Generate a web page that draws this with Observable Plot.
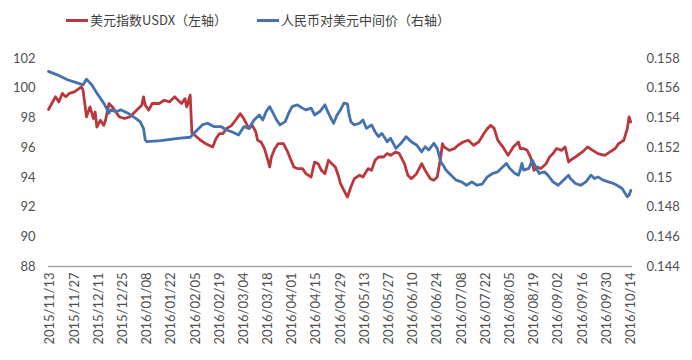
<!DOCTYPE html>
<html><head><meta charset="utf-8">
<script src="https://cdn.jsdelivr.net/npm/d3@7"></script>
<script src="https://cdn.jsdelivr.net/npm/@observablehq/plot@0.6"></script>
<style>
body{margin:0;background:#fff;}
#legend{height:40px;position:relative;font-family:"Noto Sans CJK SC",sans-serif;font-size:13px;color:#404040;}
.item{position:absolute;top:11px;line-height:18px;display:flex;align-items:center;white-space:nowrap;}
.sw{display:inline-block;width:22px;height:3px;margin-right:2px;}
</style></head><body>
<div id="legend">
 <div class="item" style="left:66px"><span class="sw" style="background:#b8383e"></span>美元指数USDX（左轴）</div>
 <div class="item" style="left:257px"><span class="sw" style="background:#4472ae"></span>人民币对美元中间价（右轴）</div>
</div>
<div id="chart"></div>
<script>
const usdxSeries = [["2015-11-12",98.57],["2015-11-16",99.42],["2015-11-18",99.08],["2015-11-20",99.65],["2015-11-22",99.42],["2015-11-24",99.65],["2015-11-27",99.75],["2015-12-01",100.09],["2015-12-02",99.87],["2015-12-04",98.07],["2015-12-06",98.74],["2015-12-08",97.96],["2015-12-09",98.4],["2015-12-10",97.39],["2015-12-12",97.84],["2015-12-14",97.5],["2015-12-15",97.84],["2015-12-17",98.97],["2015-12-19",98.74],["2015-12-21",98.4],["2015-12-23",98.07],["2015-12-26",97.96],["2015-12-29",98.07],["2016-01-02",98.52],["2016-01-05",98.86],["2016-01-06",99.42],["2016-01-07",98.86],["2016-01-09",98.52],["2016-01-11",98.97],["2016-01-15",98.97],["2016-01-18",99.19],["2016-01-21",99.08],["2016-01-24",99.42],["2016-01-26",99.19],["2016-01-28",98.97],["2016-01-30",99.3],["2016-01-31",98.74],["2016-02-02",99.53],["2016-02-03",97.0],["2016-02-08",96.5],["2016-02-11",96.27],["2016-02-15",96.04],["2016-02-17",96.61],["2016-02-19",96.95],["2016-02-21",96.95],["2016-02-23",97.28],["2016-02-26",97.5],["2016-02-29",97.96],["2016-03-02",98.29],["2016-03-04",97.96],["2016-03-07",97.28],["2016-03-09",97.5],["2016-03-11",97.06],["2016-03-12",96.5],["2016-03-14",96.38],["2016-03-16",95.94],["2016-03-18",95.15],["2016-03-19",94.7],["2016-03-20",95.37],["2016-03-22",95.94],["2016-03-24",96.27],["2016-03-27",96.27],["2016-03-29",95.82],["2016-03-31",95.26],["2016-04-02",94.7],["2016-04-04",94.59],["2016-04-07",94.59],["2016-04-09",94.25],["2016-04-12",94.02],["2016-04-14",95.03],["2016-04-16",94.92],["2016-04-18",94.47],["2016-04-20",94.25],["2016-04-22",95.15],["2016-04-24",94.92],["2016-04-26",94.7],["2016-04-28",94.02],["2016-04-29",93.58],["2016-05-03",92.67],["2016-05-05",93.35],["2016-05-07",93.91],["2016-05-10",94.14],["2016-05-12",94.02],["2016-05-15",94.59],["2016-05-17",94.47],["2016-05-19",95.15],["2016-05-21",95.37],["2016-05-24",95.37],["2016-05-26",95.6],["2016-05-28",95.48],["2016-05-31",95.71],["2016-06-02",95.6],["2016-06-05",94.92],["2016-06-07",94.14],["2016-06-09",93.91],["2016-06-12",94.25],["2016-06-15",94.92],["2016-06-17",94.47],["2016-06-20",93.91],["2016-06-22",93.8],["2016-06-24",94.02],["2016-06-26",95.37],["2016-06-27",96.27],["2016-06-28",96.04],["2016-07-01",95.82],["2016-07-04",95.94],["2016-07-06",96.16],["2016-07-09",96.38],["2016-07-12",96.5],["2016-07-15",96.16],["2016-07-18",96.38],["2016-07-21",96.95],["2016-07-23",97.28],["2016-07-25",97.5],["2016-07-27",97.28],["2016-07-29",96.5],["2016-08-01",96.04],["2016-08-04",95.48],["2016-08-07",96.04],["2016-08-10",96.38],["2016-08-11",95.94],["2016-08-13",95.94],["2016-08-15",95.82],["2016-08-17",95.37],["2016-08-19",94.47],["2016-08-21",94.7],["2016-08-23",94.59],["2016-08-26",94.92],["2016-08-28",95.37],["2016-08-30",95.6],["2016-09-01",95.94],["2016-09-04",95.82],["2016-09-06",96.04],["2016-09-08",95.03],["2016-09-09",95.15],["2016-09-12",95.37],["2016-09-16",95.71],["2016-09-19",96.04],["2016-09-22",95.82],["2016-09-25",95.6],["2016-09-29",95.48],["2016-10-02",95.71],["2016-10-05",95.94],["2016-10-07",96.27],["2016-10-10",96.5],["2016-10-12",97.28],["2016-10-13",98.07],["2016-10-14",97.73]];

const cnySeries = [["2015-11-12",0.15713],["2015-11-17",0.1569],["2015-11-23",0.15657],["2015-11-29",0.15634],["2015-12-02",0.15623],["2015-12-04",0.15661],["2015-12-07",0.15623],["2015-12-10",0.15567],["2015-12-14",0.15499],["2015-12-17",0.15432],["2015-12-18",0.15454],["2015-12-21",0.15443],["2015-12-24",0.15454],["2015-12-28",0.15432],["2015-12-31",0.15409],["2016-01-04",0.15375],["2016-01-06",0.1533],["2016-01-07",0.15251],["2016-01-08",0.1524],["2016-01-16",0.15247],["2016-01-26",0.15263],["2016-02-02",0.1527],["2016-02-05",0.15307],["2016-02-09",0.15353],["2016-02-12",0.15364],["2016-02-16",0.15341],["2016-02-20",0.15341],["2016-02-23",0.15319],["2016-02-26",0.15307],["2016-03-01",0.15285],["2016-03-04",0.15341],["2016-03-07",0.1533],["2016-03-10",0.15386],["2016-03-13",0.1542],["2016-03-15",0.15386],["2016-03-17",0.15443],["2016-03-19",0.15476],["2016-03-21",0.15432],["2016-03-23",0.15386],["2016-03-25",0.15353],["2016-03-28",0.15375],["2016-03-30",0.15432],["2016-04-01",0.15476],["2016-04-04",0.15488],["2016-04-07",0.15466],["2016-04-09",0.15454],["2016-04-12",0.15466],["2016-04-14",0.1542],["2016-04-17",0.15443],["2016-04-20",0.15488],["2016-04-22",0.15432],["2016-04-25",0.15364],["2016-04-27",0.1542],["2016-04-29",0.15454],["2016-05-01",0.15499],["2016-05-03",0.15495],["2016-05-04",0.1542],["2016-05-05",0.15375],["2016-05-07",0.15353],["2016-05-10",0.15364],["2016-05-12",0.15386],["2016-05-14",0.1533],["2016-05-17",0.15353],["2016-05-19",0.15307],["2016-05-21",0.15274],["2016-05-23",0.15296],["2016-05-26",0.1524],["2016-05-28",0.15263],["2016-05-30",0.15218],["2016-05-31",0.15195],["2016-06-03",0.15229],["2016-06-06",0.15274],["2016-06-09",0.1524],["2016-06-12",0.15218],["2016-06-15",0.15172],["2016-06-17",0.15206],["2016-06-19",0.15184],["2016-06-22",0.15229],["2016-06-24",0.15195],["2016-06-26",0.15105],["2016-06-28",0.15071],["2016-06-29",0.15049],["2016-07-02",0.15015],["2016-07-05",0.14981],["2016-07-08",0.1497],["2016-07-11",0.14947],["2016-07-14",0.1497],["2016-07-17",0.14947],["2016-07-20",0.14955],["2016-07-23",0.15003],["2016-07-26",0.15026],["2016-07-29",0.15037],["2016-08-01",0.15071],["2016-08-03",0.15094],["2016-08-05",0.1506],["2016-08-08",0.15026],["2016-08-10",0.15015],["2016-08-11",0.15049],["2016-08-12",0.15094],["2016-08-13",0.15049],["2016-08-16",0.1506],["2016-08-18",0.15116],["2016-08-20",0.15071],["2016-08-22",0.15026],["2016-08-25",0.15037],["2016-08-27",0.15015],["2016-08-30",0.1497],["2016-09-02",0.14947],["2016-09-05",0.14981],["2016-09-08",0.15015],["2016-09-09",0.14992],["2016-09-12",0.14959],["2016-09-15",0.14947],["2016-09-18",0.1497],["2016-09-21",0.15015],["2016-09-23",0.14992],["2016-09-25",0.15003],["2016-09-28",0.14981],["2016-10-01",0.1497],["2016-10-04",0.14959],["2016-10-06",0.14947],["2016-10-09",0.14925],["2016-10-12",0.1487],["2016-10-13",0.1488],["2016-10-14",0.14912]];

const xTickDates = ["2015-11-13","2015-11-27","2015-12-11","2015-12-25","2016-01-08","2016-01-22","2016-02-05","2016-02-19","2016-03-04","2016-03-18","2016-04-01","2016-04-15","2016-04-29","2016-05-13","2016-05-27","2016-06-10","2016-06-24","2016-07-08","2016-07-22","2016-08-05","2016-08-19","2016-09-02","2016-09-16","2016-09-30","2016-10-14"];
const leftTicks = [88, 90, 92, 94, 96, 98, 100, 102];
const rightTickLabels = ["0.144", "0.146", "0.148", "0.15", "0.152", "0.154", "0.156", "0.158"];
const rightMin = 0.144, rightStep = 0.002, leftMin = 88, leftStep = 2;

// map right-axis values onto the left scale (secondary axis)
const toLeft = v => leftMin + (v - rightMin) / rightStep * leftStep;
const rightLabel = new Map(leftTicks.map((t, i) => [t, rightTickLabels[i]]));

const usdx = usdxSeries.map(([d, v]) => ({date: new Date(d), value: v}));
const cny = cnySeries.map(([d, v]) => ({date: new Date(d), value: toLeft(v)}));
const xTicks = xTickDates.map(d => new Date(d));

const chart = Plot.plot({
  width: 692, height: 320,
  marginLeft: 48, marginRight: 60, marginTop: 18, marginBottom: 94,
  x: {type: "utc", domain: [new Date("2015-11-12"), new Date("2016-10-15")]},
  y: {domain: [88, 102]},
  style: {fontFamily: "Lato, 'Open Sans', sans-serif", fontSize: "13px", color: "#505050", background: "#fff"},
  marks: [
    Plot.axisY(leftTicks, {anchor: "left", tickSize: 0, tickPadding: 13, label: null}),
    Plot.axisY(leftTicks, {anchor: "right", tickSize: 0, tickPadding: 14, label: null, tickFormat: d => rightLabel.get(d)}),
    Plot.axisX(xTicks, {anchor: "bottom", tickSize: 0, tickPadding: 6, tickRotate: -90, label: null, tickFormat: d3.utcFormat("%Y/%m/%d")}),
    Plot.ruleY([88], {stroke: "#a6a6a6", strokeWidth: 1.5}),
    Plot.line(usdx, {x: "date", y: "value", stroke: "#b8383e", strokeWidth: 2.8}),
    Plot.line(cny, {x: "date", y: "value", stroke: "#4472ae", strokeWidth: 2.8})
  ]
});
document.getElementById("chart").appendChild(chart);
</script>
</body></html>
